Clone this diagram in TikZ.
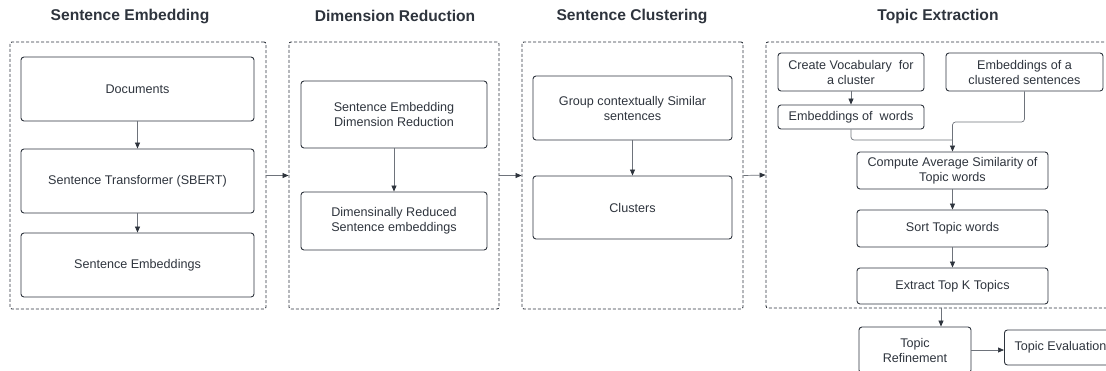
\documentclass[tikz,border=0pt]{standalone}
\usepackage{fontspec}
\setmainfont{Liberation Sans}
\usetikzlibrary{arrows.meta,positioning}
\definecolor{ink}{HTML}{2E343D}
\definecolor{wire}{HTML}{6E737B}

\begin{document}
\begin{tikzpicture}[x=1pt,y=-1pt,font=\fontsize{12.6}{15}\selectfont,text=ink]
	\tikzstyle{stage}=[draw=ink,dash pattern=on 3pt off 2pt,line width=0.9pt,rounded corners=2pt,inner sep=0pt]
	\tikzstyle{block}=[draw=ink,line width=0.9pt,rounded corners=3pt,align=center,inner sep=2pt]
	\tikzstyle{title}=[font=\fontsize{15.6}{18}\selectfont\bfseries]
	\tikzstyle{arrow}=[draw=wire,line width=0.7pt,-{Triangle[length=6pt,width=5pt,color=ink]}]
	\tikzstyle{wire}=[draw=wire,line width=0.7pt,rounded corners=3pt]

	\useasboundingbox (0,0) rectangle (1106,370);

	% Draw the dashed stage frames
	\node[stage,minimum width=256,minimum height=267] (C1) at (138,175.5) {};
	\node[stage,minimum width=210,minimum height=267] (C2) at (394,175.5) {};
	\node[stage,minimum width=221,minimum height=267] (C3) at (632.5,175.5) {};
	\node[stage,minimum width=350,minimum height=266] (C4) at (941,175) {};

	% Annotate the stages
	\node[title] (T1) at (130,16) {Sentence Embedding};
	\node[title] (T2) at (395,16) {Dimension Reduction};
	\node[title] (T3) at (632,16) {Sentence Clustering};
	\node[title] (T4) at (938,16) {Topic Extraction};

	% Sentence Embedding blocks
	\node[block,minimum width=233,minimum height=64] (docs) at (137.5,89) {Documents};
	\node[block,minimum width=233,minimum height=64] (sbert) at (137.5,181) {Sentence Transformer (SBERT)};
	\node[block,minimum width=233,minimum height=64] (semb) at (137.5,265) {Sentence Embeddings};

	% Dimension Reduction blocks
	\node[block,minimum width=186,minimum height=67] (dred) at (394,114.5) {Sentence Embedding\\Dimension Reduction};
	\node[block,minimum width=186,minimum height=58] (dsent) at (394,221) {Dimensinally Reduced\\Sentence embeddings};

	% Sentence Clustering blocks
	\node[block,minimum width=199,minimum height=64] (group) at (632.5,108) {Group contextually Similar\\sentences};
	\node[block,minimum width=199,minimum height=63] (clusters) at (632.5,207.5) {Clusters};

	% Topic Extraction blocks
	\node[block,minimum width=146,minimum height=38] (vocab) at (851,72) {Create Vocabulary\ \ for\\a cluster};
	\node[block,minimum width=157,minimum height=38] (cemb) at (1024.5,72) {Embeddings of a\\clustered sentences};
	\node[block,minimum width=146,minimum height=24] (wemb) at (851,117) {Embeddings of\ \ words};
	\node[block,minimum width=191,minimum height=37] (avg) at (952.5,170.5) {Compute Average Similarity of\\Topic words};
	\node[block,minimum width=191,minimum height=37] (sort) at (952.5,228.5) {Sort Topic words};
	\node[block,minimum width=191,minimum height=36] (topk) at (952.5,286) {Extract Top K Topics};

	% Blocks below the frames
	\node[block,minimum width=112,minimum height=46] (refine) at (915,350) {Topic\\Refinement};
	\node[block,minimum width=112,minimum height=35,anchor=west] (eval) at (1004,347.5) {Topic Evaluation};

	% Connect the stages
	\draw[arrow] (C1.east) -- (C2.west);
	\draw[arrow] (C2.east) -- (C3.west);
	\draw[arrow] (C3.east) -- (C4.west);

	% Connect the blocks inside each stage
	\draw[arrow] (docs) -- (sbert);
	\draw[arrow] (sbert) -- (semb);
	\draw[arrow] (dred) -- (dsent);
	\draw[arrow] (group) -- (clusters);
	\draw[arrow] (vocab) -- (wemb);

	% Merge the two embeddings into the similarity block
	\coordinate (join) at (952.5,140);
	\coordinate (split) at (952.5,122);
	\draw[wire] (wemb.south) |- (join);
	\draw[arrow,rounded corners=3pt] (cemb.south) |- (split) -- (avg.north);

	\draw[arrow] (avg) -- (sort);
	\draw[arrow] (sort) -- (topk);

	% Leave the Topic Extraction stage
	\coordinate (out) at (941,308);
	\draw[arrow] (out) -- (out |- refine.north);
	\draw[arrow] (refine.east) -- (refine.east -| eval.west);

\end{tikzpicture}
\end{document}
